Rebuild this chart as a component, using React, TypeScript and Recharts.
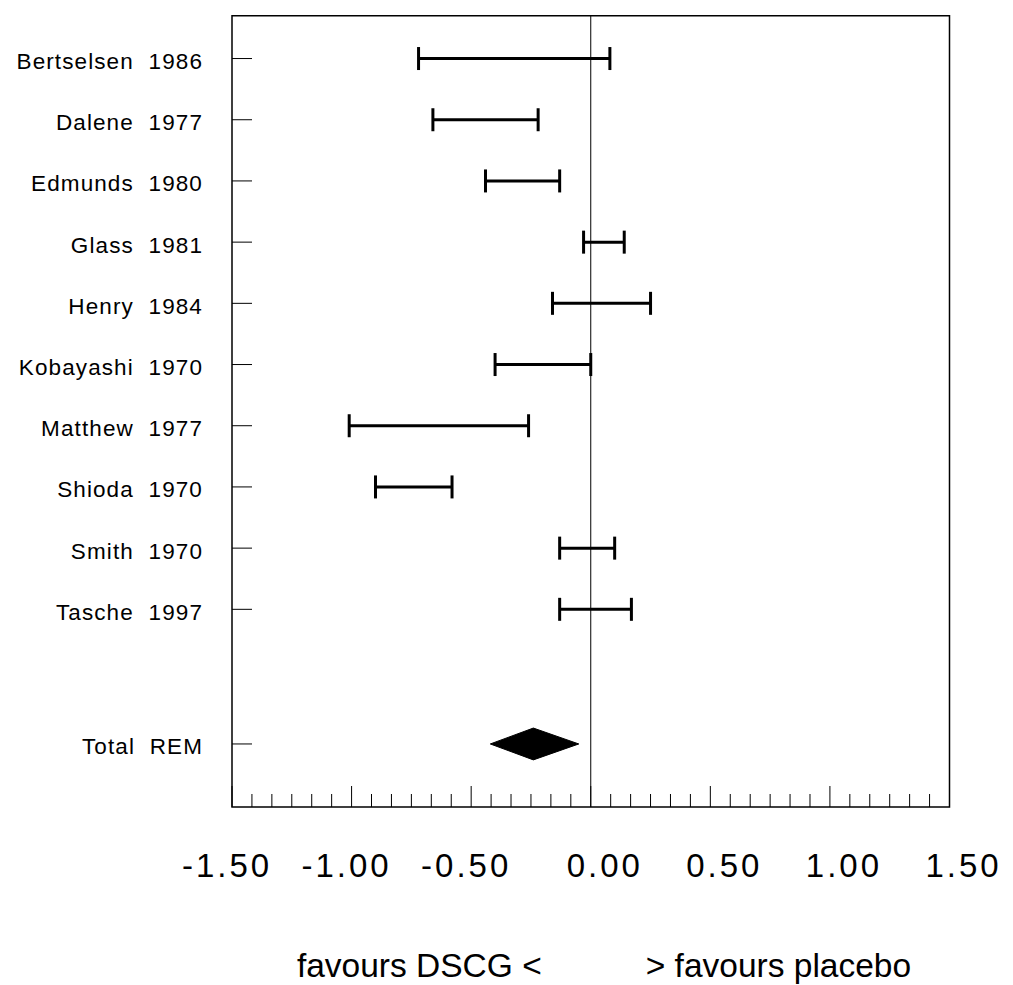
import React from 'react';
import { ScatterChart, Scatter, XAxis, YAxis, ErrorBar, ReferenceLine, ReferenceArea } from 'recharts';

const studies = [
  'Bertselsen  1986',
  'Dalene  1977',
  'Edmunds  1980',
  'Glass  1981',
  'Henry  1984',
  'Kobayashi  1970',
  'Matthew  1977',
  'Shioda  1970',
  'Smith  1970',
  'Tasche  1997',
];
const ciLow = [-0.72, -0.66, -0.44, -0.03, -0.16, -0.4, -1.01, -0.9, -0.13, -0.13];
const ciHigh = [0.08, -0.22, -0.13, 0.14, 0.25, 0.0, -0.26, -0.58, 0.1, 0.17];
const pooledLabel = 'Total  REM';
const pooled = [-0.42, -0.24, -0.05]; // low, estimate, high
const majorTicks = [-1.5, -1, -0.5, 0, 0.5, 1, 1.5];

const FONT = '"Liberation Sans", Arial, sans-serif';
const POOLED_ROW = 11.2;
const Y_DOMAIN: [number, number] = [-0.7, 12.23];
const DIAMOND_HALF = 0.26;

// 5 minor ticks between each pair of labelled ticks
const xTicks = majorTicks.flatMap((m, i) =>
  i === 0 ? [m] : [1, 2, 3, 4, 5].map((k) => majorTicks[i - 1] + (k * (m - majorTicks[i - 1])) / 6).concat(m)
);
const yTicks = [...studies.map((_, i) => i), POOLED_ROW];

const studyData = studies.map((name, i) => ({ name, x: ciLow[i], y: i, err: [0, ciHigh[i] - ciLow[i]] }));
const diamondData = [
  { x: pooled[0], y: POOLED_ROW },
  { x: pooled[1], y: POOLED_ROW - DIAMOND_HALF },
  { x: pooled[2], y: POOLED_ROW },
  { x: pooled[1], y: POOLED_ROW + DIAMOND_HALF },
  { x: pooled[0], y: POOLED_ROW },
];

const isMajor = (v: number) => majorTicks.some((m) => Math.abs(m - v) < 1e-6);

function XTick({ x, y, payload }: any) {
  const v = payload.value as number;
  const major = isMajor(v);
  return (
    <g>
      <line x1={x} x2={x} y1={y} y2={y - (major ? 21 : 13)} stroke="#000" strokeWidth={1} />
      {major && (
        <text
          x={x + (v < 0 ? -5 : 14)}
          y={y + 70}
          textAnchor="middle"
          fontFamily={FONT}
          fontSize={33}
          letterSpacing={3}
          fill="#000"
        >
          {v.toFixed(2)}
        </text>
      )}
    </g>
  );
}

function YTick({ x, y, payload }: any) {
  const v = payload.value as number;
  const label = Math.abs(v - POOLED_ROW) < 1e-6 ? pooledLabel : studies[v];
  return (
    <g>
      <line x1={x} x2={x + 20} y1={y} y2={y} stroke="#000" strokeWidth={1} />
      <text
        x={x - 29}
        y={y + 10.5}
        textAnchor="end"
        fontFamily={FONT}
        fontSize={22.5}
        letterSpacing={1.1}
        fill="#000"
        style={{ whiteSpace: 'pre' }}
      >
        {label}
      </text>
    </g>
  );
}

function XTitle({ viewBox }: any) {
  const zero = viewBox.x + viewBox.width / 2;
  const base = viewBox.y + 170;
  return (
    <g fontFamily={FONT} fontSize={33.5} fill="#000">
      <text x={zero - 49} y={base} textAnchor="end">favours DSCG &lt;</text>
      <text x={zero + 55} y={base} textAnchor="start">&gt; favours placebo</text>
    </g>
  );
}

export default function App() {
  return (
    <div style={{ width: 1000, height: 977, background: '#fff' }}>
      <ScatterChart width={1000} height={977} margin={{ top: 7.7, right: 58.5, bottom: 0, left: 0 }}>
        <XAxis
          type="number"
          dataKey="x"
          domain={[-1.5, 1.5]}
          ticks={xTicks}
          interval={0}
          tickSize={0}
          tickMargin={0}
          tickLine={false}
          axisLine={false}
          height={178}
          tick={<XTick />}
          label={{ content: (p: any) => <XTitle {...p} /> }}
          allowDataOverflow
        />
        <YAxis
          type="number"
          dataKey="y"
          domain={Y_DOMAIN}
          reversed
          ticks={yTicks}
          interval={0}
          tickSize={0}
          tickMargin={0}
          tickLine={false}
          axisLine={false}
          width={224}
          tick={<YTick />}
          allowDataOverflow
        />
        <ReferenceArea
          x1={-1.5}
          x2={1.5}
          y1={Y_DOMAIN[0]}
          y2={Y_DOMAIN[1]}
          fill="none"
          fillOpacity={0}
          stroke="#000"
          strokeWidth={1.5}
          ifOverflow="visible"
        />
        <ReferenceLine x={0} stroke="#000" strokeWidth={1} />
        <Scatter data={studyData} fill="#000" shape={() => <g />} isAnimationActive={false}>
          <ErrorBar dataKey="err" direction="x" width={11.5} stroke="#000" strokeWidth={3} isAnimationActive={false} />
        </Scatter>
        <Scatter
          data={diamondData}
          fill="#000"
          shape={() => <g />}
          line={{ stroke: '#000', fill: '#000', strokeWidth: 1 }}
          lineType="joint"
          isAnimationActive={false}
        />
      </ScatterChart>
    </div>
  );
}
